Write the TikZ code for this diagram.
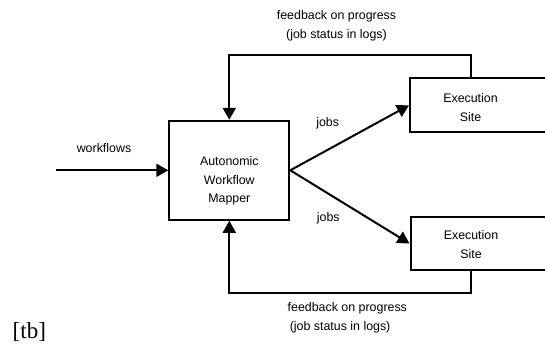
\documentclass[tikz,border=0pt]{standalone}
\usepackage{fontspec}
\setmainfont{Liberation Sans}
\newfontfamily\serifont{Liberation Serif}
\usetikzlibrary{arrows.meta}
\begin{document}
\begin{tikzpicture}[x=1pt,y=-1pt,
  box/.style={draw,line width=2pt,inner sep=0pt},
  lbl/.style={font=\fontsize{12.4}{19}\selectfont,align=center,inner sep=0pt},
  arr/.style={line width=2pt,line join=miter,-{Triangle[length=12pt,width=13pt]}}]
\useasboundingbox (0,0) rectangle (545,345);
% boxes
\node[box,minimum width=120pt,minimum height=99pt] (mapper) at (229.3,170.3) {};
\node[lbl,font=\fontsize{12.4}{18.3}\selectfont] (mappertext) at (229.3,181) {Autonomic\\Workflow\\Mapper};
\node[box,minimum width=145pt,minimum height=54pt] (e1box) at (482.5,105.3) {};
\node[lbl] (e1) at (470.5,107.2) {Execution\\Site};
\node[box,minimum width=145pt,minimum height=53pt] (e2box) at (483,243.5) {};
\node[lbl] (e2) at (471,245) {Execution\\Site};
% labels
\node[lbl] (fbtop) at (336.5,25.3) {feedback on progress\\(job status in logs)};
\node[lbl,align=left,anchor=west] (fbbot) at (287.5,317.5) {feedback on progress\\\,(job status in logs)};
\node[lbl] (jobs1) at (327.7,123.3) {jobs};
\node[lbl] (jobs2) at (328.3,218.7) {jobs};
\node[lbl] (wf) at (104,148.3) {workflows};
\node[inner sep=0pt,anchor=base west,font=\serifont\fontsize{23}{23}\selectfont] (tb) at (12.5,338) {[tb]};
% coordinates
\coordinate (src) at (56,170.3);
\coordinate (tl) at (229.3,55);
\coordinate (bl) at (229.3,293.3);
% connectors
\draw[arr] (src) -- (mapper.west);
\draw[arr] (mapper.east) -- (e1box.west);
\draw[arr] (mapper.east) -- (e2box.west);
\draw[arr] (e1box.north -| e1) |- (tl) -- (mapper.north);
\draw[arr] (e2box.south -| e2) |- (bl) -- (mapper.south);
\end{tikzpicture}
\end{document}
